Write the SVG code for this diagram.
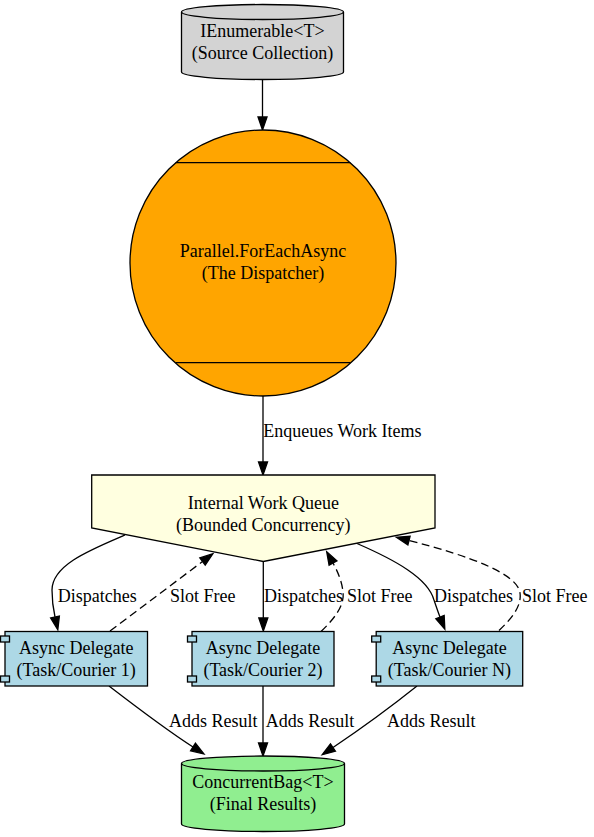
<svg xmlns="http://www.w3.org/2000/svg" width="594" height="837" viewBox="0 0 594 837">
<style>
text{font-family:"Liberation Serif","Times New Roman",serif;font-size:18px;fill:#000}
.n{text-anchor:middle}
.shape{stroke:#000;stroke-width:1.3}
.edge{fill:none;stroke:#000;stroke-width:1.3}
.dash{stroke-dasharray:8,4.5}
.comp{fill:#add8e6;stroke:#000;stroke-width:1.3}
</style>
<defs>
<marker id="arr" markerUnits="userSpaceOnUse" markerWidth="14" markerHeight="10" refX="0" refY="4.5" orient="auto" overflow="visible">
<path d="M0,0 L13,4.5 L0,9 Z" fill="#000" stroke="#000" stroke-width="1.3" stroke-dasharray="none"/>
</marker>
</defs>
<rect width="594" height="837" fill="#fff"/>

<g id="connectors">
<path class="edge" d="M262.5,79.5 L262.5,117" marker-end="url(#arr)"/>
<path class="edge" d="M263,396 L263,462" marker-end="url(#arr)"/>
<path class="edge" d="M125,535 C90,550 52,565 52,590 C52,600 53,608 55,617" marker-end="url(#arr)"/>
<path class="edge dash" d="M110,631 L202.5,561.5" marker-end="url(#arr)"/>
<path class="edge" d="M263.3,561.5 L263.3,618" marker-end="url(#arr)"/>
<path class="edge dash" d="M321,631.5 C333,620 345,606 343,592 C342,582 338,572 333,563" marker-end="url(#arr)"/>
<path class="edge" d="M357,543.5 C395,560 428,578 434,600 C436,606 438,612 440,617" marker-end="url(#arr)"/>
<path class="edge dash" d="M499,630.5 C510,620 522,607 520,593 C518,574 470,556 409,540.5" marker-end="url(#arr)"/>
<path class="edge" d="M109,686 C135,706 165,729 193,747" marker-end="url(#arr)"/>
<path class="edge" d="M263,686 L263,743" marker-end="url(#arr)"/>
<path class="edge" d="M417,686 C392,706 362,728 333,747.5" marker-end="url(#arr)"/>
<text x="263.3" y="437">Enqueues Work Items</text>
<text x="57.7" y="602">Dispatches</text>
<text x="170" y="602">Slot Free</text>
<text x="264" y="602">Dispatches</text>
<text x="347" y="602">Slot Free</text>
<text x="434" y="602">Dispatches</text>
<text x="522" y="602">Slot Free</text>
<text x="169" y="727">Adds Result</text>
<text x="265.7" y="727">Adds Result</text>
<text x="387" y="727">Adds Result</text>
</g>

<g id="source">
<path class="shape" fill="#d3d3d3" d="M181.5,12 A81,7.5 0 0 1 343.5,12 L343.5,72 A81,7.5 0 0 1 181.5,72 Z"/>
<path class="edge" d="M181.5,12 A81,7.5 0 0 0 343.5,12"/>
<text class="n" x="262.5" y="37">IEnumerable&lt;T&gt;</text>
<text class="n" x="262.5" y="59">(Source Collection)</text>
</g>

<g id="dispatcher">
<circle class="shape" fill="#ffa500" cx="263" cy="263" r="133"/>
<line class="edge" x1="175.7" y1="162.7" x2="350.3" y2="162.7"/>
<line class="edge" x1="175.7" y1="362.7" x2="350.3" y2="362.7"/>
<text class="n" x="263" y="257.3">Parallel.ForEachAsync</text>
<text class="n" x="263" y="279.3">(The Dispatcher)</text>
</g>

<g id="queue">
<path class="shape" fill="#ffffe0" d="M91.7,475 L435,475 L435,528 L263.3,561.5 L91.7,528 Z"/>
<text class="n" x="263.3" y="508.5">Internal Work Queue</text>
<text class="n" x="263.3" y="530.5">(Bounded Concurrency)</text>
</g>

<g id="courier1">
<rect class="comp" x="5" y="631.5" width="142.5" height="54.5"/>
<rect class="comp" x="0.5" y="636" width="9" height="6"/>
<rect class="comp" x="0.5" y="676" width="9" height="6"/>
<text class="n" x="76.2" y="653.5">Async Delegate</text>
<text class="n" x="76.2" y="675.5">(Task/Courier 1)</text>
</g>

<g id="courier2">
<rect class="comp" x="192" y="631.5" width="142" height="54.5"/>
<rect class="comp" x="187.5" y="636" width="9" height="6"/>
<rect class="comp" x="187.5" y="676" width="9" height="6"/>
<text class="n" x="263" y="653.5">Async Delegate</text>
<text class="n" x="263" y="675.5">(Task/Courier 2)</text>
</g>

<g id="courierN">
<rect class="comp" x="376.2" y="631.5" width="146.5" height="54.5"/>
<rect class="comp" x="371.7" y="636" width="9" height="6"/>
<rect class="comp" x="371.7" y="676" width="9" height="6"/>
<text class="n" x="449.4" y="653.5">Async Delegate</text>
<text class="n" x="449.4" y="675.5">(Task/Courier N)</text>
</g>

<g id="results">
<path class="shape" fill="#90ee90" d="M181.5,763.5 A81.5,7.5 0 0 1 344.5,763.5 L344.5,824 A81.5,7.5 0 0 1 181.5,824 Z"/>
<path class="edge" d="M181.5,763.5 A81.5,7.5 0 0 0 344.5,763.5"/>
<text class="n" x="263" y="788">ConcurrentBag&lt;T&gt;</text>
<text class="n" x="263" y="810">(Final Results)</text>
</g>
</svg>
